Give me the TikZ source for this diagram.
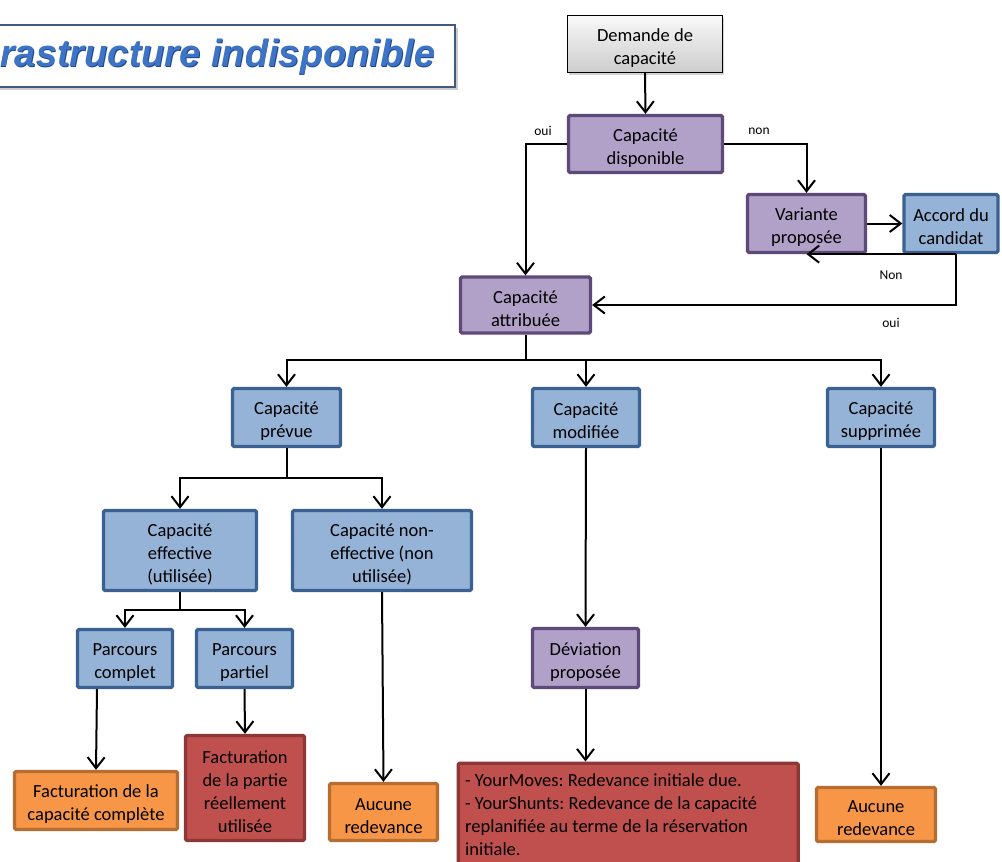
\documentclass[tikz,border=0pt]{standalone}
\usepackage{fontspec}
\setmainfont{Carlito}
\newfontfamily\titlefont{Liberation Sans}
\usetikzlibrary{arrows.meta,shadows,calc}
\definecolor{purfill}{HTML}{B1A0C7}
\definecolor{purdraw}{HTML}{5F497A}
\definecolor{bluefill}{HTML}{95B3D7}
\definecolor{bluedraw}{HTML}{3B6193}
\definecolor{orfill}{HTML}{F79646}
\definecolor{ordraw}{HTML}{B66D31}
\definecolor{redfill}{HTML}{C0504D}
\definecolor{reddraw}{HTML}{8C3836}
\definecolor{titleborder}{HTML}{3F5A7A}
\definecolor{titleblue}{HTML}{3E74C6}
\definecolor{titledark}{HTML}{1F4690}
\newcommand\bxfont{\fontsize{18.5}{23}\selectfont}
\newcommand\fixsp{\spaceskip=\fontdimen2\font\relax\xspaceskip=\fontdimen2\font\relax}
\frenchspacing
\begin{document}
\frenchspacing
\begin{tikzpicture}[x=1pt,y=-1pt,
  plainbox/.style={rectangle, rounded corners=1.5pt, line width=3.3pt, inner sep=0pt, font=\bxfont\frenchspacing},
  box/.style={plainbox, align=center, execute at begin node={\fixsp\rule{0pt}{20pt}}},
  purbox/.style={box, fill=purfill, draw=purdraw},
  bluebox/.style={box, fill=bluefill, draw=bluedraw},
  orbox/.style={box, fill=orfill, draw=ordraw},
  redbox/.style={box, fill=redfill, draw=reddraw},
  graybox/.style={rectangle, draw=black, line width=1.2pt, top color=gray!5, bottom color=gray!40, align=center, inner sep=0pt, font=\bxfont, execute at begin node={\fixsp\rule{0pt}{20pt}}, drop shadow={opacity=0.35, shadow xshift=1.5pt, shadow yshift=-2pt}},
  arr/.style={line width=2pt, -{Straight Barb[length=11pt,width=17pt]}},
  ln/.style={line width=2pt},
  lbl/.style={font=\fontsize{13.5}{16}\selectfont, inner sep=0pt}]
\clip (0,0) rectangle (1002,862);
\fill[white] (0,0) rectangle (1002,862);

% title
\fill[black, opacity=0.2] (-10,28) rectangle (458,90);
\fill[white] (-10,25) rectangle (455,87);
\draw[titleborder, line width=1.5pt] (-10,25) -- (455,25) -- (455,87) -- (-10,87);
\node[anchor=base west, inner sep=0pt, text=titledark, font=\titlefont\bfseries\itshape\fontsize{38}{42}\selectfont] at (0.8,67.2) {rastructure indisponible};
\node[anchor=base west, inner sep=0pt, text=titleblue, font=\titlefont\bfseries\itshape\fontsize{38}{42}\selectfont] (title) at (0,66) {rastructure indisponible};

% nodes
\node[graybox, minimum width=155pt, text width=147pt, minimum height=57pt] (demande) at (645,44) {Demande de\\capacité};
\node[purbox, minimum width=154pt, text width=146pt, minimum height=57pt] (dispo) at (645.5,144) {Capacité\\disponible};
\node[purbox, minimum width=118pt, text width=110pt, minimum height=58pt] (variante) at (806.5,223.5) {Variante\\proposée};
\node[bluebox, minimum width=94pt, text width=90pt, minimum height=58pt] (accord) at (951,223.5) {Accord du\\candidat};
\node[purbox, minimum width=130pt, text width=122pt, minimum height=56pt] (attrib) at (525.5,305) {Capacité\\attribuée};

\node[bluebox, minimum width=108pt, text width=100pt, minimum height=58pt] (prevue) at (286.5,417.5) {Capacité\\prévue};
\node[bluebox, minimum width=107pt, text width=99pt, minimum height=58pt] (modif) at (586,417.5) {Capacité\\modifiée};
\node[bluebox, minimum width=107pt, text width=99pt, minimum height=58pt] (suppr) at (881,417.5) {Capacité\\supprimée};

\node[bluebox, minimum width=153pt, text width=145pt, minimum height=80pt] (effect) at (180,550.5) {Capacité\\effective\\(utilisée)};
\node[bluebox, minimum width=179pt, text width=171pt, minimum height=80pt] (noneff) at (382,550.5) {Capacité non-\\effective (non\\utilisée)};

\node[bluebox, minimum width=95pt, text width=89pt, minimum height=58pt] (complet) at (125,658.5) {Parcours\\complet};
\node[bluebox, minimum width=96pt, text width=90pt, minimum height=58pt] (partiel) at (244.5,658.5) {Parcours\\partiel};
\node[purbox, minimum width=106pt, text width=98pt, minimum height=59pt] (deviation) at (585.5,658) {Déviation\\proposée};

\node[orbox, minimum width=163pt, text width=157pt, minimum height=58pt] (factcomp) at (96,800.5) {Facturation de la\\capacité complète};
\node[redbox, minimum width=119pt, text width=113pt, minimum height=105pt] (factpart) at (245,788) {Facturation\\de la partie\\réellement\\utilisée};
\node[orbox, minimum width=108pt, text width=100pt, minimum height=57pt] (aucune1) at (383.5,812) {Aucune\\redevance};
\node[plainbox, fill=redfill, draw=reddraw, anchor=north west, align=left, text width=326pt, inner xsep=7pt, inner ysep=4pt, execute at begin node={\fixsp}] (redbig) at (456.5,761.5) {\rule{0pt}{19pt}- YourMoves: Redevance initiale due.\\- YourShunts: Redevance de la capacité\\replanifiée au terme de la réservation\\initiale.\\\rule{0pt}{40pt}};
\node[orbox, minimum width=119pt, text width=111pt, minimum height=54pt] (aucune2) at (876,814.5) {Aucune\\redevance};

% connectors top
\draw[arr] (demande.south) -- (dispo.north);
\draw[arr] (dispo.west) -| (attrib.north);
\draw[arr] (dispo.east) -| (variante.north);
\draw[arr] (variante.east) -- (accord.west);
\coordinate (acc) at ([xshift=5pt]accord.south);
\draw[arr] (acc) -- (variante.south);
\draw[arr] (acc) |- (attrib.east);
\node[lbl] (l1) at (543,131) {oui};
\node[lbl] (l2) at (759,131) {non};
\node[lbl] (l3) at (891,275) {Non};
\node[lbl] (l4) at (891,323) {oui};

% attribuee split
\coordinate (j1) at (attrib.south |- 0,360);
\draw[ln] (attrib.south) -- (j1);
\draw[arr] (j1) -| (prevue.north);
\draw[arr] (j1) -| (modif.north);
\draw[arr] (j1) -| (suppr.north);

% prevue split
\coordinate (j2) at (prevue.south |- 0,478);
\draw[ln] (prevue.south) -- (j2);
\draw[arr] (j2) -| (effect.north);
\draw[arr] (j2) -| (noneff.north);

% effective split
\coordinate (j3) at (effect.south |- 0,610);
\draw[ln] (effect.south) -- (j3);
\draw[arr] (j3) -| (complet.north);
\draw[arr] (j3) -| (partiel.north);

% down to results
\draw[arr] ([xshift=-28pt]complet.south) -- (factcomp.north);
\draw[arr] (partiel.south) -- (factpart.north);
\draw[arr] (noneff.south) -- (aucune1.north);
\draw[arr] (modif.south) -- (deviation.north);
\draw[arr] (deviation.south) -- (deviation.south |- redbig.north);
\draw[arr] (suppr.south) -- (suppr.south |- aucune2.north);
\end{tikzpicture}
\end{document}
